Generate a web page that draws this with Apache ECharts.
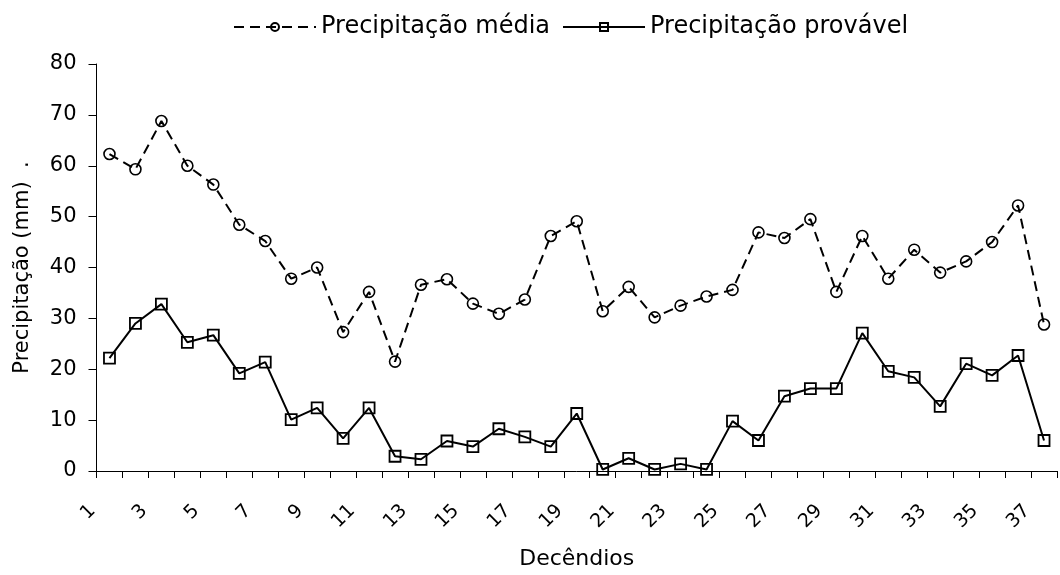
<!DOCTYPE html>
<html>
<head>
<meta charset="utf-8">
<script src="https://cdn.jsdelivr.net/npm/echarts@6/dist/echarts.min.js"></script>
<style>
  html, body { margin: 0; padding: 0; background: #fff; }
  #chart { width: 1060px; height: 575px; }
</style>
</head>
<body>
<div id="chart"></div>
<script>
const decendios = ['1', '2', '3', '4', '5', '6', '7', '8', '9', '10', '11', '12', '13',
  '14', '15', '16', '17', '18', '19', '20', '21', '22', '23', '24', '25', '26', '27',
  '28', '29', '30', '31', '32', '33', '34', '35', '36', '37'];

const media = [62.3, 59.3, 68.8, 60.0, 56.3, 48.4, 45.2, 37.8, 40.0, 27.3, 35.2, 21.5,
  36.6, 37.7, 32.9, 30.9, 33.7, 46.2, 49.1, 31.4, 36.2, 30.2, 32.5, 34.3, 35.6,
  46.9, 45.8, 49.5, 35.2, 46.2, 37.8, 43.5, 39.0, 41.2, 45.0, 52.2, 28.8];

const provavel = [22.2, 29.0, 32.8, 25.3, 26.7, 19.2, 21.4, 10.1, 12.4, 6.4, 12.4, 2.9,
  2.3, 5.9, 4.8, 8.3, 6.7, 4.8, 11.3, 0.3, 2.5, 0.3, 1.4, 0.3, 9.8,
  6.0, 14.7, 16.2, 16.2, 27.1, 19.6, 18.4, 12.7, 21.1, 18.8, 22.7, 6.0];

const font = 'DejaVu Sans';
const black = '#000';

const chart = echarts.init(document.getElementById('chart'), null, { renderer: 'canvas' });

chart.setOption({
  animation: false,
  backgroundColor: '#fff',
  textStyle: { fontFamily: font, color: black },
  legend: {
    top: 10,
    left: 228,
    itemWidth: 82,
    itemHeight: 10,
    itemGap: 12,
    textStyle: { fontFamily: font, fontSize: 24, color: black },
    data: ['Precipitação média', 'Precipitação provável']
  },
  grid: {
    left: 96.5,
    right: 3,
    top: 64,
    bottom: 103.5,
    containLabel: false
  },
  xAxis: {
    type: 'category',
    data: decendios,
    boundaryGap: true,
    name: 'Decêndios',
    nameLocation: 'middle',
    nameGap: 77,
    nameTextStyle: { fontFamily: font, fontSize: 22, color: black },
    axisLine: { lineStyle: { color: black, width: 1 } },
    axisTick: { show: true, interval: 0, length: 7, lineStyle: { color: black } },
    axisLabel: {
      interval: 1,
      rotate: 45,
      margin: 20,
      padding: [0, 24, 0, 0],
      fontFamily: font,
      fontSize: 19,
      color: black
    },
    splitLine: { show: false }
  },
  yAxis: {
    type: 'value',
    min: 0,
    max: 80,
    interval: 10,
    name: 'Precipitação (mm)  .',
    nameLocation: 'middle',
    nameGap: 63,
    nameTextStyle: { fontFamily: font, fontSize: 21, color: black },
    axisLine: { show: true, lineStyle: { color: black, width: 1 } },
    axisTick: { show: true, length: 8, lineStyle: { color: black } },
    axisLabel: { margin: 20, fontFamily: font, fontSize: 21, color: black },
    splitLine: { show: false }
  },
  series: [
    {
      name: 'Precipitação média',
      type: 'line',
      data: media,
      symbol: 'circle',
      symbolSize: 11,
      itemStyle: { color: 'rgba(255,255,255,0)', borderColor: black, borderWidth: 1.6 },
      lineStyle: { color: black, width: 2, type: [10, 6] }
    },
    {
      name: 'Precipitação provável',
      type: 'line',
      data: provavel,
      symbol: 'rect',
      symbolSize: 11,
      itemStyle: { color: 'rgba(255,255,255,0)', borderColor: black, borderWidth: 1.8 },
      lineStyle: { color: black, width: 2 }
    }
  ]
});
</script>
</body>
</html>
